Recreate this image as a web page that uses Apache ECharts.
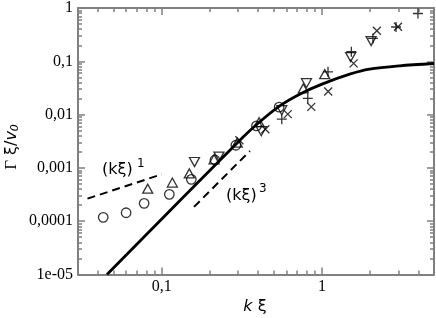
<!DOCTYPE html>
<html><head><meta charset="utf-8">
<script src="https://cdn.jsdelivr.net/npm/echarts@6/dist/echarts.min.js"></script>
<style>html,body{margin:0;padding:0;background:#fff}#c{width:436px;height:318px}</style>
</head><body><div id="c"></div>
<script>
// ---- data ----
const xMin = 0.03, xMax = 5;
const yMin = 1e-5, yMax = 1;
const xMajor = [0.1, 1];
const xMajorLabels = ['0,1', '1'];
const yMajor = [1e-5, 1e-4, 1e-3, 1e-2, 0.1, 1];
const yMajorLabels = ['1e-05', '0,0001', '0,001', '0,01', '0,1', '1'];

const circles = [[0.0431,1.18e-4],[0.0599,1.44e-4],[0.0776,2.16e-4],[0.1115,3.19e-4],[0.1529,6.1e-4],[0.2147,1.41e-3],[0.290,2.66e-3],[0.390,6.14e-3],[0.540,0.0138]];
const upTriangles = [[0.0817,4.08e-4],[0.1164,5.3e-4],[0.1485,7.9e-4],[0.212,1.45e-3],[0.296,2.99e-3],[0.405,7.2e-3],[0.764,0.031],[1.04,0.0574]];
const downTriangles = [[0.160,1.29e-3],[0.2275,1.63e-3],[0.418,4.88e-3],[0.561,0.0121],[0.80,0.0389],[1.509,0.12],[2.025,0.24]];
const pluses = [[0.561,8.2e-3],[0.815,0.0201],[1.09,0.0635],[1.524,0.151],[2.078,0.269],[2.897,0.44],[3.97,0.788]];
const crosses = [[0.305,3.3e-3],[0.443,5.32e-3],[0.6115,0.0102],[0.857,0.01395],[1.093,0.0272],[1.575,0.0913],[2.2,0.374],[2.98,0.445]];
const curve = [[0.0455,1e-5],[0.307,3.3e-3],[0.409,7.33e-3],[0.545,0.0146],[0.726,0.0242],[1.0,0.0373],[1.488,0.0574],[1.98,0.0713],[3.046,0.0823],[5,0.091]];
const slope1 = [[0.0344,2.65e-4],[0.1,7.58e-4]];
const slope3 = [[0.159,1.86e-4],[0.355,2.08e-3]];

// ---- minor tick positions (2..9 within each decade) ----
function minorTicks(lo, hi) {
  const out = [];
  for (let e = Math.floor(Math.log10(lo)); e <= Math.ceil(Math.log10(hi)); e++) {
    for (let m = 2; m <= 9; m++) {
      const v = m * Math.pow(10, e);
      if (v > lo * 1.0001 && v < hi * 0.9999) out.push(v);
    }
  }
  return out;
}
const xMinor = minorTicks(xMin, xMax);
const yMinor = minorTicks(yMin, yMax);

const gray = '#808080';
function fmt(vals, labels) {
  return function (v) {
    const i = vals.findIndex(t => Math.abs(Math.log10(t) - Math.log10(v)) < 1e-6);
    return i >= 0 ? labels[i] : '';
  };
}
function axis(kind, pos, ticks, len, main, labels) {
  const isX = kind === 'x';
  return {
    type: 'log', logBase: 10,
    min: isX ? xMin : yMin, max: isX ? xMax : yMax,
    position: pos,
    axisLine: { show: main, lineStyle: { color: gray, width: 2 } },
    axisTick: { show: true, inside: true, length: len, customValues: ticks, lineStyle: { color: gray, width: 1.5 } },
    axisLabel: labels ? {
      show: true, customValues: ticks, formatter: fmt(ticks, labels),
      fontFamily: 'Liberation Serif', fontSize: 16, color: '#000', margin: isX ? 4 : 5
    } : { show: false },
    splitLine: { show: false }, minorTick: { show: false }, minorSplitLine: { show: false },
    axisPointer: { show: false }
  };
}

const chart = echarts.init(document.getElementById('c'), null, { renderer: 'canvas' });
const hollow = { color: 'rgba(0,0,0,0)', borderColor: '#000', borderWidth: 1.3 };
const txt = (s, x, y, size) => ({ type: 'text', x: x, y: y, style: {
  text: s, fontFamily: 'DejaVu Sans', fontSize: size, fill: '#000', align: 'left', verticalAlign: 'middle' } });
chart.setOption({
  animation: false,
  grid: { left: 78, right: 2, top: 8, bottom: 43.5, containLabel: false },
  xAxis: [
    axis('x', 'bottom', xMajor, 7, true, xMajorLabels),
    axis('x', 'bottom', xMinor, 4, false, null),
    axis('x', 'top', xMajor, 7, true, null),
    axis('x', 'top', xMinor, 4, false, null)
  ],
  yAxis: [
    axis('y', 'left', yMajor, 7, true, yMajorLabels),
    axis('y', 'left', yMinor, 4, false, null),
    axis('y', 'right', yMajor, 7, true, null),
    axis('y', 'right', yMinor, 4, false, null)
  ],
  series: [
    { type: 'scatter', data: circles, symbol: 'circle', symbolSize: 9.5, itemStyle: hollow, z: 2 },
    { type: 'scatter', data: upTriangles, symbol: 'triangle', symbolSize: [10, 9], itemStyle: hollow, z: 2 },
    { type: 'scatter', data: downTriangles, symbol: 'triangle', symbolRotate: 180, symbolSize: [10, 9], itemStyle: hollow, z: 2 },
    { type: 'scatter', data: pluses, symbol: 'path://M0,5L10,5M5,0L5,10', symbolSize: 10, itemStyle: hollow, z: 2 },
    { type: 'scatter', data: crosses, symbol: 'path://M0,0L10,10M10,0L0,10', symbolSize: 8, itemStyle: hollow, z: 2 },
    { type: 'line', data: curve, smooth: 0.3, symbol: 'none', lineStyle: { color: '#000', width: 2.8 }, z: 3 },
    { type: 'line', data: slope1, symbol: 'none', lineStyle: { color: '#000', width: 2, type: [8, 5] }, z: 3 },
    { type: 'line', data: slope3, symbol: 'none', lineStyle: { color: '#000', width: 2, type: [8, 5] }, z: 3 }
  ],
  graphic: [
    txt('(kξ)', 102, 170, 16),
    txt('1', 137, 164, 12),
    txt('(kξ)', 226, 196, 16),
    txt('3', 259, 189, 12),
    { type: 'text', x: 255, y: 307, style: {
      text: '{i|k} ξ', fontFamily: 'DejaVu Sans', fontSize: 16, fill: '#000', align: 'center', verticalAlign: 'middle',
      rich: { i: { fontFamily: 'DejaVu Sans', fontStyle: 'italic', fontSize: 16, fill: '#000' } } } },
    { type: 'text', x: 12, y: 147, rotation: Math.PI / 2, style: {
      text: '{g|Γ} ξ/{v|v}{s|0}', fontFamily: 'DejaVu Sans', fontSize: 16, fill: '#000', align: 'center', verticalAlign: 'middle',
      rich: {
        g: { fontFamily: 'Liberation Serif', fontSize: 17, fill: '#000' },
        v: { fontFamily: 'DejaVu Sans', fontStyle: 'italic', fontSize: 16, fill: '#000' },
        s: { fontFamily: 'DejaVu Sans', fontStyle: 'italic', fontSize: 11, verticalAlign: 'bottom', fill: '#000' }
      } } }
  ]
});
</script>
</body></html>
